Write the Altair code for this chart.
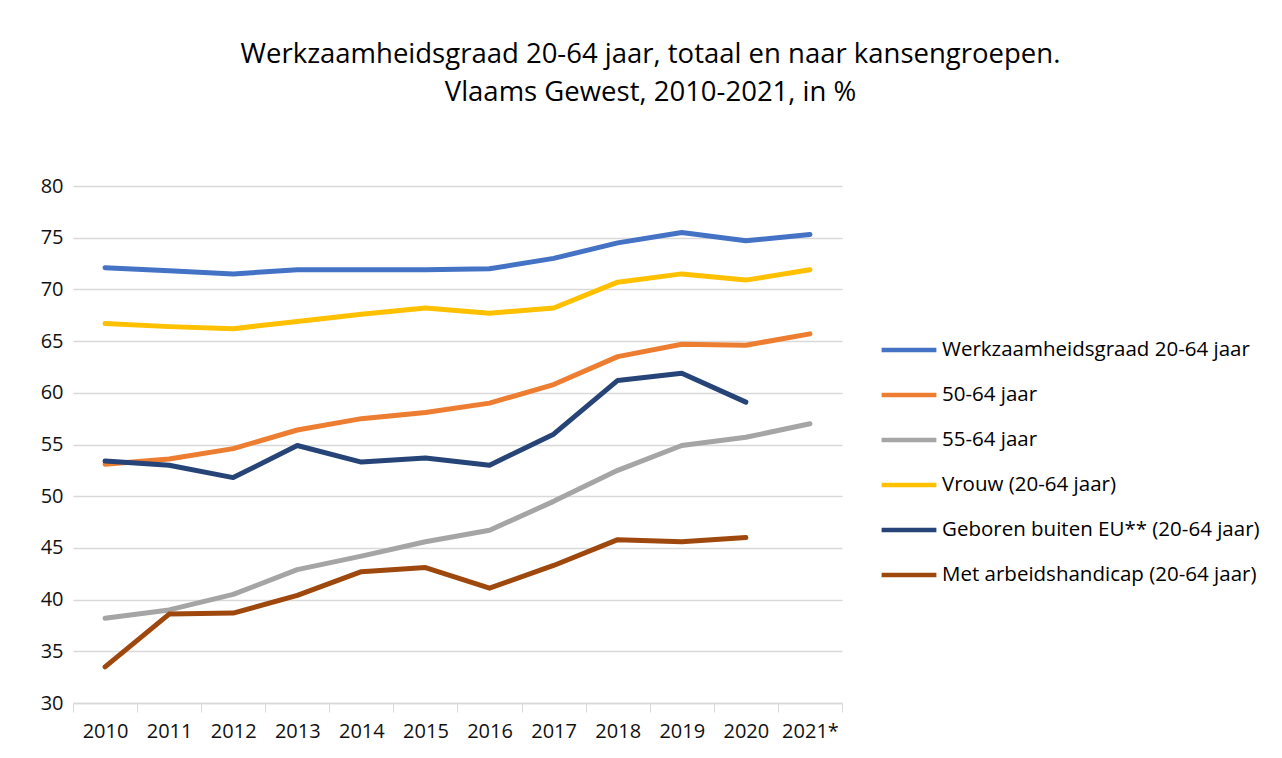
import altair as alt
import pandas as pd

years = ["2010", "2011", "2012", "2013", "2014", "2015", "2016", "2017", "2018", "2019", "2020", "2021*"]
series_names = [
    "Werkzaamheidsgraad 20-64 jaar",
    "50-64 jaar",
    "55-64 jaar",
    "Vrouw (20-64 jaar)",
    "Geboren buiten EU** (20-64 jaar)",
    "Met arbeidshandicap (20-64 jaar)",
]
totaal = [72.1, 71.8, 71.5, 71.9, 71.9, 71.9, 72.0, 73.0, 74.5, 75.5, 74.7, 75.3]
jaar_50_64 = [53.1, 53.6, 54.6, 56.4, 57.5, 58.1, 59.0, 60.8, 63.5, 64.7, 64.6, 65.7]
jaar_55_64 = [38.2, 39.0, 40.5, 42.9, 44.2, 45.6, 46.7, 49.5, 52.5, 54.9, 55.7, 57.0]
vrouw = [66.7, 66.4, 66.2, 66.9, 67.6, 68.2, 67.7, 68.2, 70.7, 71.5, 70.9, 71.9]
buiten_eu = [53.4, 53.0, 51.8, 54.9, 53.3, 53.7, 53.0, 56.0, 61.2, 61.9, 59.1, None]
handicap = [33.5, 38.6, 38.7, 40.4, 42.7, 43.1, 41.1, 43.3, 45.8, 45.6, 46.0, None]
colors = ["#4472C4", "#ED7D31", "#A5A5A5", "#FFC000", "#264478", "#9E480E"]

rows = []
for name, vals in zip(series_names, [totaal, jaar_50_64, jaar_55_64, vrouw, buiten_eu, handicap]):
    for y, v in zip(years, vals):
        if v is not None:
            rows.append({"jaar": y, "reeks": name, "waarde": v})
df = pd.DataFrame(rows)

FONT = "Open Sans"

chart = alt.Chart(df).mark_line(strokeWidth=5, strokeCap="round", strokeJoin="round").encode(
    x=alt.X("jaar:N", sort=years,
            scale=alt.Scale(paddingInner=0, paddingOuter=0),
            axis=alt.Axis(title=None, labelAngle=0, tickBand="extent", tickSize=9,
                          tickColor="#d9d9d9", domainColor="#d9d9d9", domainWidth=1.5,
                          labelFontSize=20, labelColor="#111111", labelPadding=9,
                          labelFont=FONT, grid=False)),
    y=alt.Y("waarde:Q",
            scale=alt.Scale(domain=[30, 80], nice=False, zero=False),
            axis=alt.Axis(title=None, values=list(range(30, 81, 5)), domain=False, ticks=False,
                          gridColor="#d9d9d9", gridWidth=1.5, labelFontSize=20,
                          labelColor="#111111", labelPadding=10, labelFont=FONT)),
    color=alt.Color("reeks:N", sort=series_names,
                    scale=alt.Scale(domain=series_names, range=colors),
                    legend=alt.Legend(title=None, orient="none", legendX=806, legendY=134,
                                      symbolType="stroke", symbolSize=3000, symbolStrokeWidth=4.5,
                                      labelFontSize=20.5, labelFont=FONT, labelColor="#000000",
                                      rowPadding=4, labelOffset=3, labelLimit=400)),
).properties(
    width=769,
    height=517,
    background="white",
    title=alt.Title(
        ["Werkzaamheidsgraad 20-64 jaar, totaal en naar kansengroepen.", "Vlaams Gewest, 2010-2021, in %"],
        fontSize=27.5, font=FONT, fontWeight="normal", color="#000000",
        anchor="middle", dx=193, offset=70, lineHeight=38,
    ),
    autosize=alt.AutoSizeParams(type="none"),
    padding={"left": 65, "top": 178, "right": 420, "bottom": 44},
).configure_view(stroke="transparent", strokeWidth=0)

chart.save("out.html", embed_options={"renderer": "svg", "actions": False})
